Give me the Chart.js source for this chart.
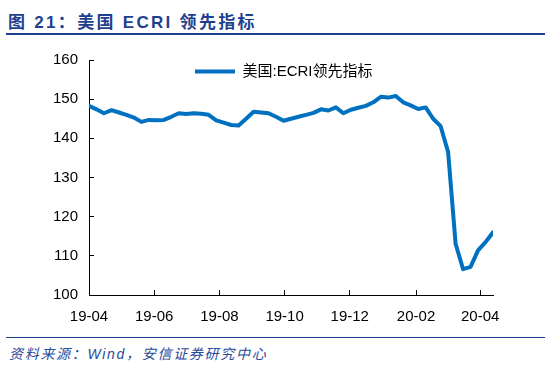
<!DOCTYPE html>
<html>
<head>
<meta charset="utf-8">
<script src="https://cdn.jsdelivr.net/npm/chart.js@4/dist/chart.umd.min.js"></script>
<style>
  html, body { margin: 0; padding: 0; background: #fff; }
  #wrap { position: relative; width: 545px; height: 365px; overflow: hidden; }
  #title {
    position: absolute; left: 8px; top: 8px;
    font: bold 17px "Liberation Sans", "Noto Sans CJK SC", sans-serif;
    letter-spacing: 2.3px; color: #1F3F8F; white-space: nowrap;
  }
  #topLine { position: absolute; left: 6px; right: 0; top: 33px; height: 2px; background: #1F3F8F; }
  #box { position: absolute; left: 0; top: 35px; width: 545px; height: 295px; }
  #srcLine { position: absolute; left: 6px; right: 0; top: 337px; height: 1px; background: #1F3F8F; }
  #source {
    position: absolute; left: 9px; top: 343px;
    font: italic 14px "Liberation Sans", "Noto Sans CJK SC", sans-serif;
    letter-spacing: 1.7px; color: #2A4A9A; white-space: nowrap;
  }
</style>
</head>
<body>
<div id="wrap">
  <div id="title">图 21：美国 ECRI 领先指标</div>
  <div id="topLine"></div>
  <div id="box"><canvas id="ecriChart"></canvas></div>
  <div id="srcLine"></div>
  <div id="source">资料来源：Wind，安信证券研究中心</div>
</div>
<script>
// tanggal mingguan (Jumat)
const dates = [
  '2019-04-05', '2019-04-12', '2019-04-19', '2019-04-26',
  '2019-05-03', '2019-05-10', '2019-05-17', '2019-05-24', '2019-05-31',
  '2019-06-07', '2019-06-14', '2019-06-21', '2019-06-28',
  '2019-07-05', '2019-07-12', '2019-07-19', '2019-07-26',
  '2019-08-02', '2019-08-09', '2019-08-16', '2019-08-23', '2019-08-30',
  '2019-09-06', '2019-09-13', '2019-09-20', '2019-09-27',
  '2019-10-04', '2019-10-11', '2019-10-18', '2019-10-25',
  '2019-11-01', '2019-11-08', '2019-11-15', '2019-11-22', '2019-11-29',
  '2019-12-06', '2019-12-13', '2019-12-20', '2019-12-27',
  '2020-01-03', '2020-01-10', '2020-01-17', '2020-01-24', '2020-01-31',
  '2020-02-07', '2020-02-14', '2020-02-21', '2020-02-28',
  '2020-03-06', '2020-03-13', '2020-03-20', '2020-03-27',
  '2020-04-03', '2020-04-10', '2020-04-17'
];

const ecriValues = [
  148.3, 147.4, 146.4, 147.2, 146.6, 146.0, 145.3, 144.2, 144.7,
  144.6, 144.7, 145.5, 146.4, 146.2, 146.4, 146.3, 146.0, 144.6,
  144.0, 143.4, 143.3, 145.0, 146.8, 146.6, 146.4, 145.5, 144.5,
  145.0, 145.5, 146.0, 146.5, 147.4, 147.1, 147.9, 146.4, 147.3,
  147.8, 148.3, 149.2, 150.6, 150.4, 150.8, 149.2, 148.4, 147.5,
  147.9, 145.0, 143.1, 136.5, 113.1, 106.6, 107.2, 111.4, 113.5,
  116.0
];

const tickLabels = ['19-04', '19-06', '19-08', '19-10', '19-12', '20-02', '20-04'];
const yTicks = [100, 110, 120, 130, 140, 150, 160];

const seriesName = '美国:ECRI领先指标';

// ubah tanggal ke jumlah hari sejak titik pertama
function toUTC(s) {
  const p = s.split('-').map(Number);
  return Date.UTC(p[0], p[1] - 1, p[2]);
}
const startMs = toUTC(dates[0]);
const startDay = Number(dates[0].split('-')[2]);
const dayOf = s => Math.round((toUTC(s) - startMs) / 86400000);

const points = dates.map((d, i) => ({ x: dayOf(d), y: ecriValues[i] }));

// posisi label sumbu x: yy-mm, hari yang sama dengan tanggal pertama
const tickPos = tickLabels.map(t => {
  const [yy, mm] = t.split('-');
  const d = `20${yy}-${mm}-${String(startDay).padStart(2, '0')}`;
  return dayOf(d);
});

const fontFam = '"Liberation Sans", "Noto Sans CJK SC", Arial, sans-serif';
Chart.defaults.font.family = fontFam;
Chart.defaults.color = '#000';

// geser legenda ke dalam area grafik, agak ke tengah
const legendShift = {
  id: 'legendShift',
  beforeDraw(chart) {
    const lg = chart.legend;
    if (!lg) return;
    const w = lg.right - lg.left;
    const h = lg.bottom - lg.top;
    lg.left = chart.chartArea.left + 102;
    lg.right = lg.left + w;
    lg.top = chart.chartArea.top;
    lg.bottom = lg.top + h;
  }
};

const ctx = document.getElementById('ecriChart').getContext('2d');
const ecriChart = new Chart(ctx, {
  type: 'line',
  data: {
    datasets: [{
      label: seriesName,
      data: points,
      borderColor: '#0070C0',
      backgroundColor: '#0070C0',
      borderWidth: 4,
      borderCapStyle: 'round',
      borderJoinStyle: 'round',
      pointRadius: 0,
      tension: 0,
      fill: false
    }]
  },
  options: {
    responsive: true,
    maintainAspectRatio: false,
    animation: false,
    layout: { padding: { left: 0, right: 52, top: 0, bottom: 0 } },
    plugins: {
      legend: {
        position: 'chartArea',
        align: 'start',
        labels: {
          usePointStyle: true,
          pointStyle: 'line',
          pointStyleWidth: 40,
          boxHeight: 4,
          padding: 4,
          font: { size: 15 },
          color: '#000'
        }
      },
      tooltip: { enabled: false }
    },
    scales: {
      x: {
        type: 'linear',
        min: 0,
        max: dayOf(dates[dates.length - 1]),
        afterBuildTicks: scale => { scale.ticks = tickPos.map(v => ({ value: v })); },
        afterFit: scale => { scale.height = 35; },
        ticks: {
          autoSkip: false,
          maxRotation: 0,
          padding: 18,
          font: { size: 15 },
          callback: v => tickLabels[tickPos.indexOf(v)]
        },
        grid: { drawOnChartArea: false, tickLength: -5, color: '#000' },
        border: { color: '#000', width: 1 }
      },
      y: {
        min: 100,
        max: 160,
        afterBuildTicks: scale => { scale.ticks = yTicks.map(v => ({ value: v })); },
        afterFit: scale => { scale.width = 89; },
        ticks: { padding: 16, font: { size: 15 } },
        grid: { drawOnChartArea: false, tickLength: -5, color: '#000' },
        border: { color: '#000', width: 1 }
      }
    }
  },
  plugins: [legendShift]
});
</script>
</body>
</html>
